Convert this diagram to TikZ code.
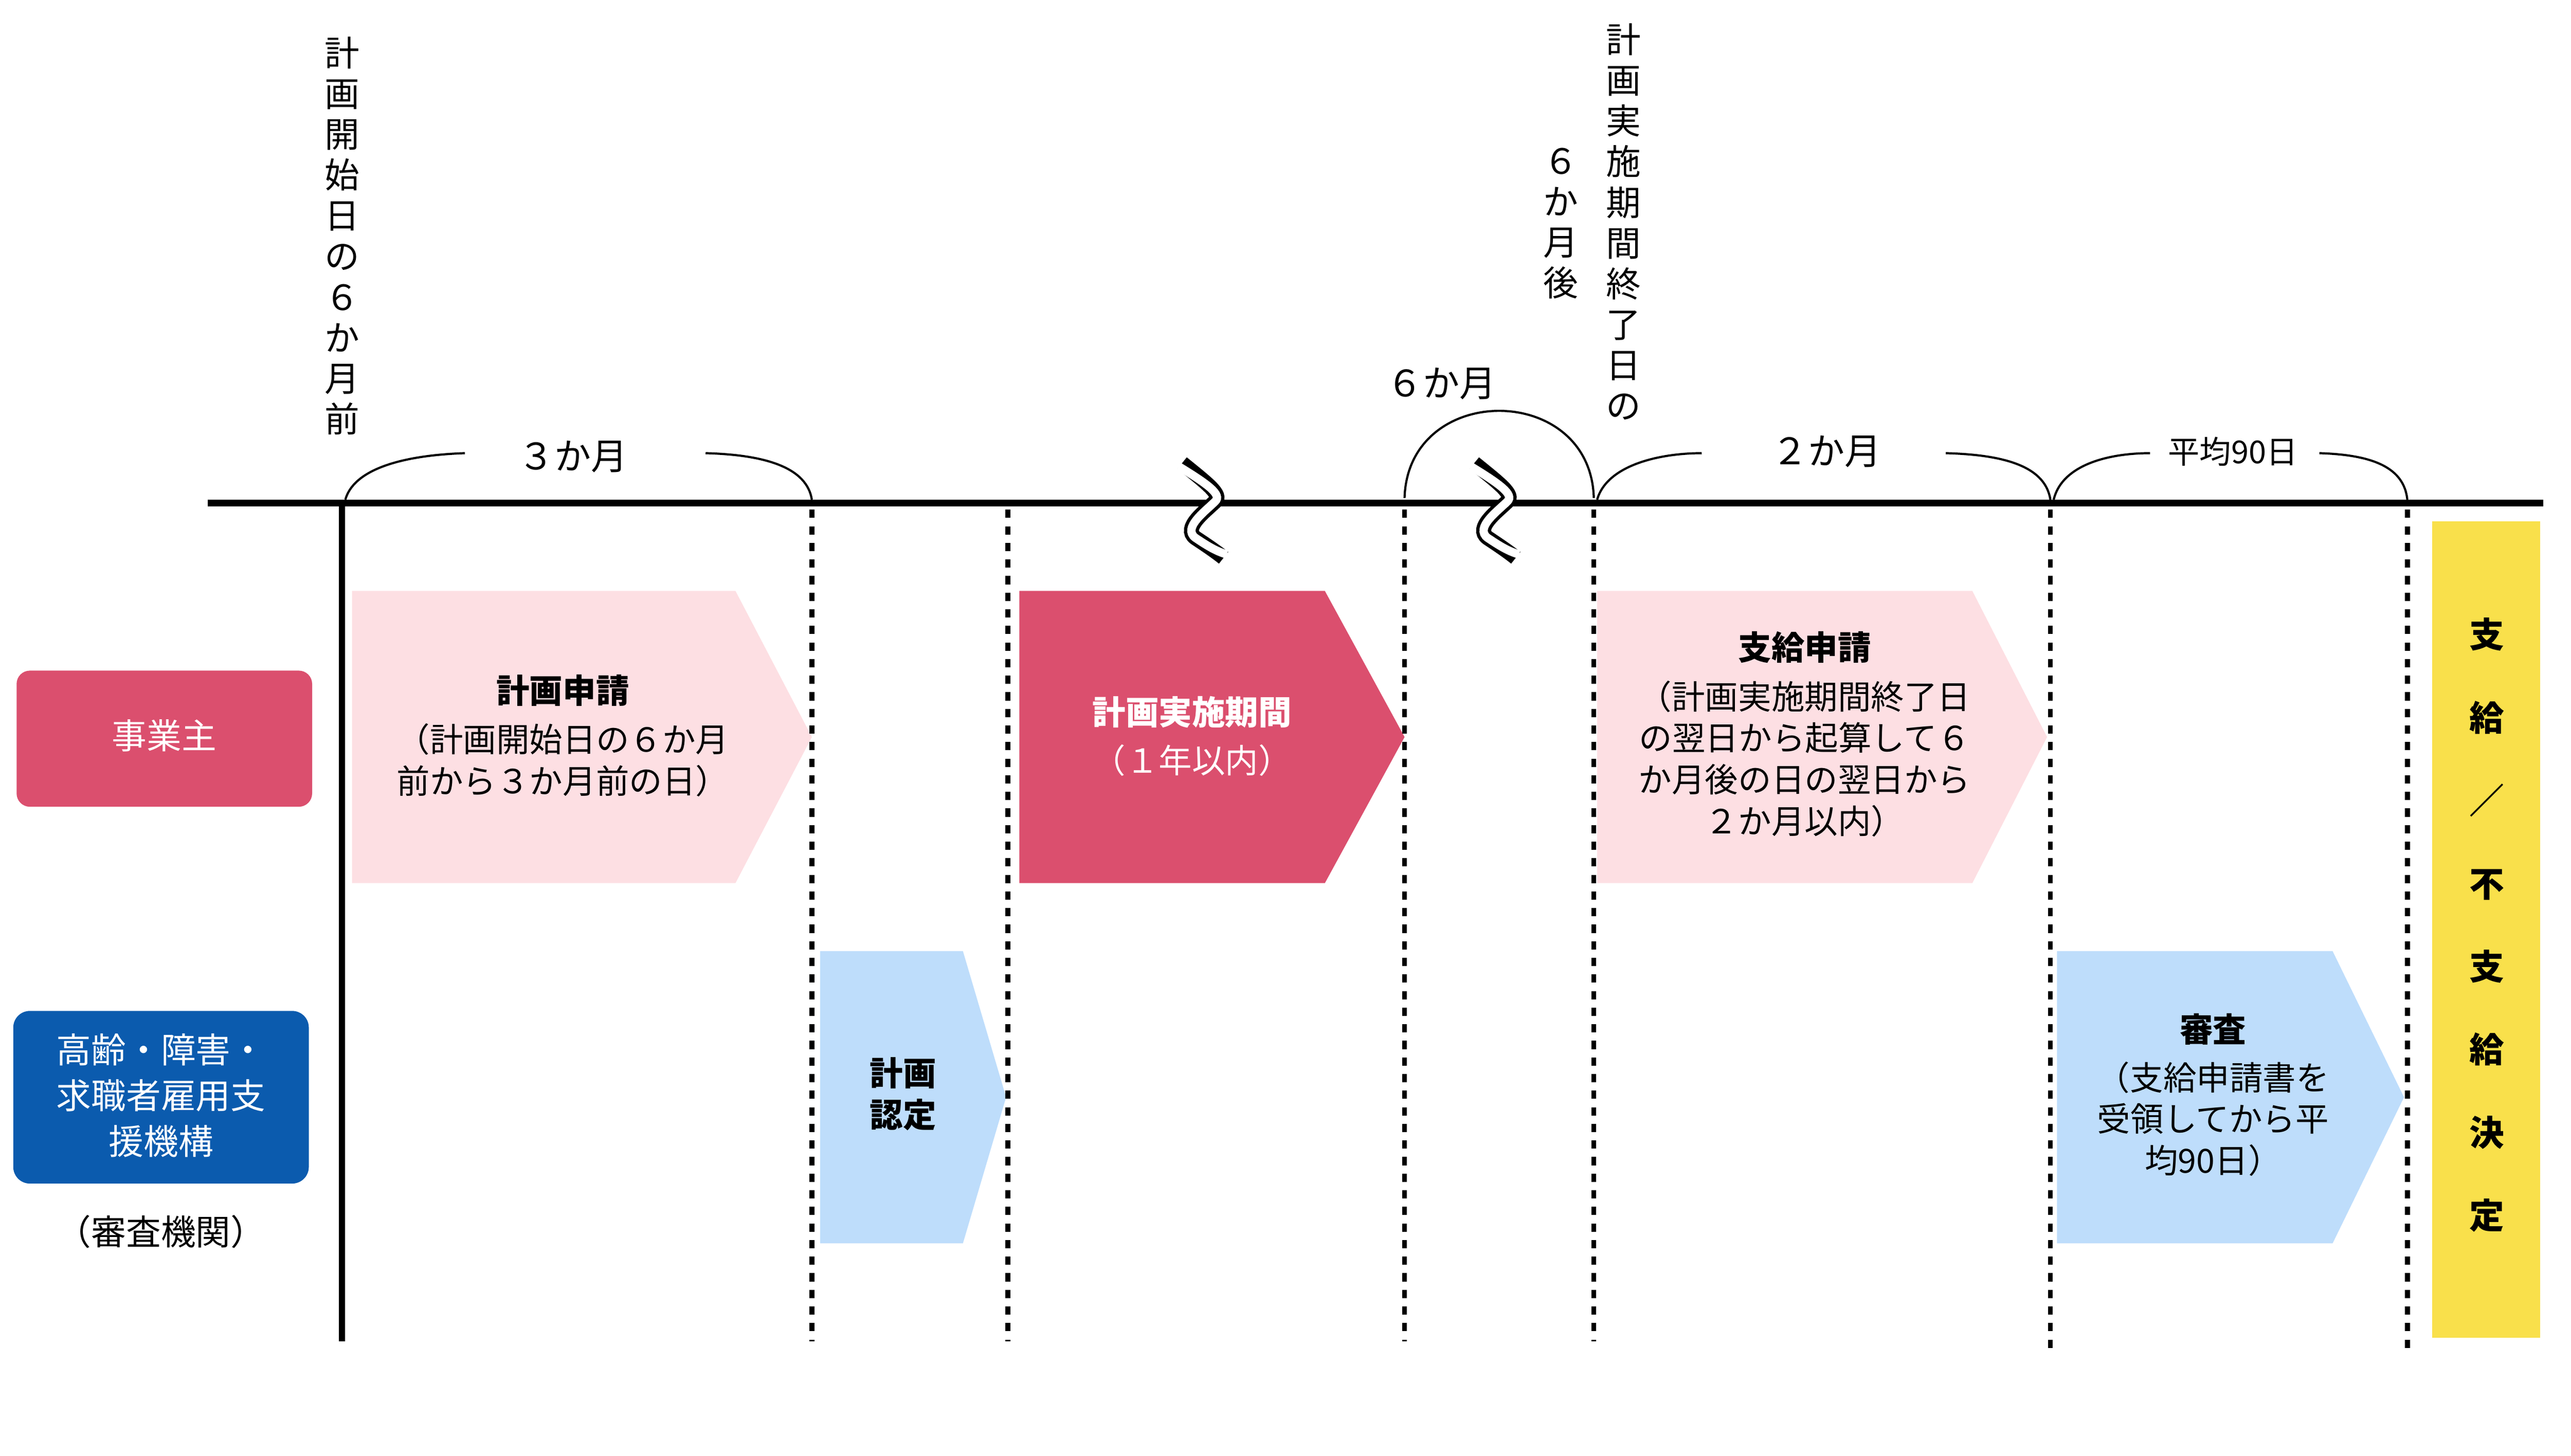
\documentclass[tikz,border=0pt]{standalone}
\usepackage{fontspec}
\setmainfont{Noto Sans CJK JP}
\begin{document}
\begin{tikzpicture}[x=1pt,y=-1pt,
 txt/.style={font=\fontsize{20}{25}\selectfont,align=center,inner sep=0},
 vtxt/.style={font=\fontsize{21}{24.5}\selectfont,align=center,inner sep=0,anchor=north},
 dot/.style={line width=3pt,dash pattern=on 5pt off 5pt},
 br/.style={line width=1.3pt},
 sq/.style={line width=9pt},
 sqw/.style={line width=5pt,white}]
\useasboundingbox (0,0) rectangle (1548.6,877);
\definecolor{lpink}{HTML}{FDDFE3}
\definecolor{dpink}{HTML}{DB4F6E}
\definecolor{lblue}{HTML}{BEDDFB}
\definecolor{dblue}{HTML}{0B5BAE}
\definecolor{yel}{HTML}{F9E04B}
% arrows
\fill[lpink] (212,356) -- (443,356) -- (489,444) -- (443,532) -- (212,532) -- cycle;
\fill[dpink] (614,356) -- (798,356) -- (846,444) -- (798,532) -- (614,532) -- cycle;
\fill[lpink] (962,356) -- (1188,356) -- (1233,444) -- (1188,532) -- (962,532) -- cycle;
\fill[lblue] (494,573) -- (580,573) -- (606,661) -- (580,749) -- (494,749) -- cycle;
\fill[lblue] (1239,573) -- (1405,573) -- (1448,661) -- (1405,749) -- (1239,749) -- cycle;
\fill[yel] (1465,314) rectangle (1530,806);
\node[txt] (a1) at (339,416) {\bfseries 計画申請};
\node[txt] (a1b) at (339,458) {（計画開始日の６か月\\前から３か月前の日）};
\node[txt,white] (a2) at (718,429) {\bfseries 計画実施期間};
\node[txt,white] (a2b) at (718,458) {（１年以内）};
\node[txt] (a3) at (1087,390) {\bfseries 支給申請};
\node[txt] (a3b) at (1087,457) {（計画実施期間終了日\\の翌日から起算して６\\か月後の日の翌日から\\２か月以内）};
\node[txt] (a4) at (544,659) {\bfseries 計画\\\bfseries 認定};
\node[txt] (a5) at (1333,620) {\bfseries 審査};
\node[txt] (a5b) at (1333,674) {（支給申請書を\\受領してから平\\均90日）};
\node[txt,font=\fontsize{21}{50}\selectfont\bfseries,anchor=north] (yl) at (1498,372) {支\\給\\／\\不\\支\\給\\決\\定};
% actors
\fill[dpink,rounded corners=8pt] (10,404) rectangle (188,486);
\fill[dblue,rounded corners=10pt] (8,609) rectangle (186,713);
\node[txt,text=white,font=\fontsize{21}{25}\selectfont] (jg) at (99,443) {事業主};
\node[txt,text=white,font=\fontsize{21}{27.5}\selectfont] (ki) at (97,660) {高齢・障害・\\求職者雇用支\\援機構};
\node[txt,font=\fontsize{21}{25}\selectfont] (sk) at (97,742) {（審査機関）};
% timeline
\coordinate (tl0) at (125,303); \coordinate (tl1) at (1532,303);
\draw[line width=4pt] (tl0) -- (tl1);
\draw[line width=3.5pt] (206,303) -- (206,808);
\foreach \x/\e in {489/808,607/808,846/808,960/808,1235/815,1450/815}
  \draw[dot] (\x,307) -- (\x,\e);
% braces
\draw[br] (208,301) .. controls (214,280) and (250,274) .. (280,273);
\draw[br] (425,273) .. controls (462,274) and (486,282) .. (489,301);
\node[txt,font=\fontsize{22}{25}\selectfont] (m3) at (345,275) {３か月};
\draw[br] (962,301) .. controls (968,280) and (1000,273) .. (1025,273);
\draw[br] (1172,273) .. controls (1210,274) and (1232,282) .. (1235,301);
\node[txt,font=\fontsize{22}{25}\selectfont] (m2) at (1100,272) {２か月};
\draw[br] (1237,301) .. controls (1242,280) and (1270,273) .. (1295,273);
\draw[br] (1397,273) .. controls (1430,274) and (1448,282) .. (1450,301);
\node[txt,font=\fontsize{19}{25}\selectfont] (avg) at (1345,272) {平均90日};
\draw[br] (846,300) .. controls (848,230) and (958,230) .. (960,300);
\node[txt,font=\fontsize{22}{25}\selectfont] (m6) at (868,231) {６か月};
% squiggles
\foreach \dx in {0,176}{
 \begin{scope}[xshift=\dx]
 \draw[sq] (712,279) .. controls (728,292) and (736,298) .. (732,302) .. controls (726,308) and (712,318) .. (720,324) .. controls (726,328) and (732,332) .. (737,336);
 \draw[sqw] (710,281) .. controls (728,292) and (736,298) .. (732,302) .. controls (726,308) and (712,318) .. (720,324) .. controls (726,328) and (732,332) .. (739,334);
 \end{scope}}
% vertical labels
\node[vtxt] (v1) at (206,22) {計\\画\\開\\始\\日\\の\\６\\か\\月\\前};
\node[vtxt] (v2) at (978,14) {計\\画\\実\\施\\期\\間\\終\\了\\日\\の};
\node[vtxt] (v3) at (940,89) {６\\か\\月\\後};
\end{tikzpicture}
\end{document}
